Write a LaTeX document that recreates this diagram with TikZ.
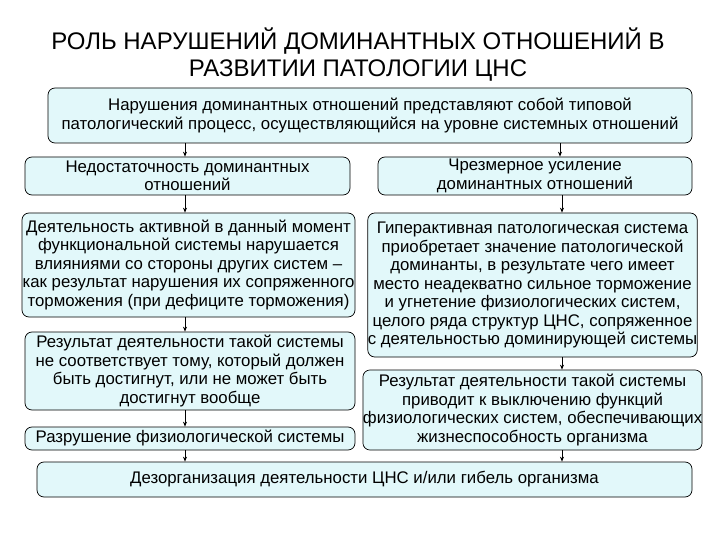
\documentclass[tikz,border=0pt]{standalone}
\usepackage{fontspec}
\setmainfont{Liberation Sans}
\usetikzlibrary{arrows.meta}
\definecolor{boxfill}{HTML}{E2F8FA}
\tikzset{
  bx/.style={draw=black, line width=0.7pt, fill=boxfill, rounded corners=7pt, align=center, inner sep=0pt,
    font=\fontsize{16.8}{18.5}\selectfont},
  arr/.style={-{Stealth[length=5pt,width=4pt]}, line width=0.8pt}
}
\begin{document}
\begin{tikzpicture}[x=1pt,y=-1pt]
\useasboundingbox (0,0) rectangle (720,540);
\node[font=\fontsize{24}{27}\selectfont, align=center] (title) at (358,55) {РОЛЬ НАРУШЕНИЙ ДОМИНАНТНЫХ ОТНОШЕНИЙ В\\РАЗВИТИИ ПАТОЛОГИИ ЦНС};
\node[bx, minimum width=644pt, minimum height=55pt] (top) at (370,115.5) {Нарушения доминантных отношений представляют собой типовой\\патологический процесс, осуществляющийся на уровне системных отношений};
\node[bx, minimum width=325pt, minimum height=38pt] (l1) at (187.5,176) {Недостаточность доминантных\\отношений};
\node[bx, minimum width=314pt, minimum height=38pt] (r1) at (535,176) {Чрезмерное усиление\\доминантных отношений};
\node[bx, minimum width=333pt, minimum height=104pt] (l2) at (188.5,265) {Деятельность активной в данный момент\\функциональной системы нарушается\\влияниями со стороны других систем –\\как результат нарушения их сопряженного\\торможения (при дефиците торможения)};
\node[bx, minimum width=325pt, minimum height=144pt] (r2) at (532.5,285) {Гиперактивная патологическая система\\приобретает значение патологической\\доминанты, в результате чего имеет\\место неадекватно сильное торможение\\и угнетение физиологических систем,\\целого ряда структур ЦНС, сопряженное\\с деятельностью доминирующей системы};
\node[bx, minimum width=330pt, minimum height=78pt] (l3) at (190,371) {Результат деятельности такой системы\\не соответствует тому, который должен\\быть достигнут, или не может быть\\достигнут вообще};
\node[bx, minimum width=325pt, minimum height=80pt] (r3) at (532.5,410) {Результат деятельности такой системы\\приводит к выключению функций\\физиологических систем, обеспечивающих\\жизнеспособность организма};
\node[bx, minimum width=330pt, minimum height=23pt] (l4) at (190,438.5) {Разрушение физиологической системы};
\node[bx, minimum width=655pt, minimum height=35pt] (bot) at (364.5,479.5) {Дезорганизация деятельности ЦНС и/или гибель организма};
\draw[arr] (top.south -| 185,0) coordinate (a1) -- (a1 |- l1.north);
\draw[arr] (top.south -| 560,0) coordinate (a2) -- (a2 |- r1.north);
\draw[arr] (l1.south -| 185,0) coordinate (a3) -- (a3 |- l2.north);
\draw[arr] (r1.south -| 562,0) coordinate (a4) -- (a4 |- r2.north);
\draw[arr] (l2.south -| 185,0) coordinate (a5) -- (a5 |- l3.north);
\draw[arr] (l3.south -| 185,0) coordinate (a6) -- (a6 |- l4.north);
\draw[arr] (r2.south -| 562,0) coordinate (a7) -- (a7 |- r3.north);
\draw[arr] (l4.south -| 185,0) coordinate (a8) -- (a8 |- bot.north);
\draw[arr] (r3.south -| 562,0) coordinate (a9) -- (a9 |- bot.north);
\end{tikzpicture}
\end{document}
